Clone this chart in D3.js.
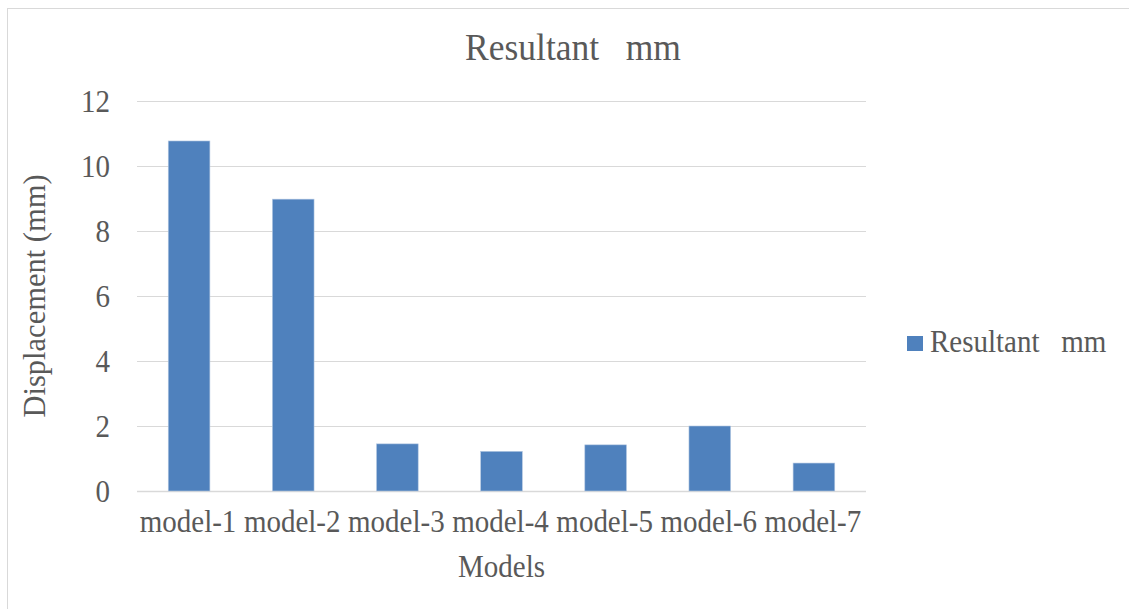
<!DOCTYPE html>
<html>
<head>
<meta charset="utf-8">
<script src="https://cdn.jsdelivr.net/npm/d3@7"></script>
<style>
  html, body { margin: 0; padding: 0; background: #fff; }
  svg { display: block; }
  text { font-family: "Liberation Serif", "Times New Roman", serif; fill: #595959; white-space: pre; }
</style>
</head>
<body>
<svg id="chart" width="1129" height="609"></svg>
<script>
const categories = ["model-1", "model-2", "model-3", "model-4", "model-5", "model-6", "model-7"];
const seriesName = "Resultant   mm";
const values = [10.77, 8.98, 1.45, 1.22, 1.42, 2.0, 0.86];
const yTicks = [0, 2, 4, 6, 8, 10, 12];
const chartTitle = "Resultant   mm";
const xTitle = "Models";
const yTitle = "Displacement (mm)";

const svg = d3.select("#chart");
const W = 1129, H = 609;
const plot = { left: 137, right: 866, top: 101, bottom: 491 };
const SY = 1.08; // slight vertical stretch of the text as in the reference

// outer chart border
svg.append("rect")
  .attr("x", 7.5).attr("y", 8.5)
  .attr("width", W + 10).attr("height", H + 10)
  .attr("fill", "#fff").attr("stroke", "#d9d9d9").attr("stroke-width", 1);

const x = d3.scaleBand().domain(categories)
  .range([plot.left, plot.right]).paddingInner(0.6).paddingOuter(0.3);
const y = d3.scaleLinear().domain([0, 12]).range([plot.bottom, plot.top]);

// gridlines
svg.append("g").selectAll("line").data(yTicks).join("line")
  .attr("x1", plot.left).attr("x2", plot.right)
  .attr("y1", d => Math.round(y(d)) + 0.5).attr("y2", d => Math.round(y(d)) + 0.5)
  .attr("stroke", "#d9d9d9").attr("stroke-width", d => d === 0 ? 1.5 : 1.2);

// y axis labels
const yAxis = d3.axisLeft(y).tickValues(yTicks).tickSize(0).tickPadding(0);
const gy = svg.append("g").attr("transform", `translate(${plot.left - 27},0)`).call(yAxis);
gy.select(".domain").remove();
gy.selectAll("text").attr("font-size", 29).attr("fill", "#595959")
  .attr("font-family", "Liberation Serif, serif").attr("dy", "0.32em")
  .attr("transform", `scale(1,${SY})`);

// bars
svg.append("g").selectAll("rect").data(values).join("rect")
  .attr("x", (d, i) => x(categories[i]))
  .attr("width", x.bandwidth())
  .attr("y", d => y(d))
  .attr("height", d => y(0) - y(d))
  .attr("fill", "#4f81bd")
  .attr("stroke", "#b4c8e2").attr("stroke-width", 0.6);

// x axis labels
const xAxis = d3.axisBottom(x).tickSize(0).tickPadding(0);
const gx = svg.append("g").attr("transform", `translate(-1,${plot.bottom + 18})`).call(xAxis);
gx.select(".domain").remove();
gx.selectAll("text").attr("font-size", 29).attr("fill", "#595959")
  .attr("font-family", "Liberation Serif, serif").attr("dy", "0.72em")
  .attr("transform", `scale(1,${SY})`);

// titles
svg.append("text").attr("transform", `translate(573,60) scale(1,${SY})`)
  .attr("text-anchor", "middle").attr("font-size", 35.5).text(chartTitle);
svg.append("text").attr("transform", `translate(${(plot.left + plot.right) / 2},577) scale(1,${SY})`)
  .attr("text-anchor", "middle").attr("font-size", 29).text(xTitle);
svg.append("text")
  .attr("transform", `translate(45,${(plot.top + plot.bottom) / 2}) rotate(-90)`)
  .attr("text-anchor", "middle").attr("font-size", 30.5).text(yTitle);

// legend
const lg = svg.append("g").attr("transform", "translate(907,336)");
lg.append("rect").attr("width", 16).attr("height", 15).attr("fill", "#4f81bd");
lg.append("text").attr("transform", `translate(23,16) scale(1,${SY})`)
  .attr("font-size", 29).text(seriesName);
</script>
</body>
</html>
